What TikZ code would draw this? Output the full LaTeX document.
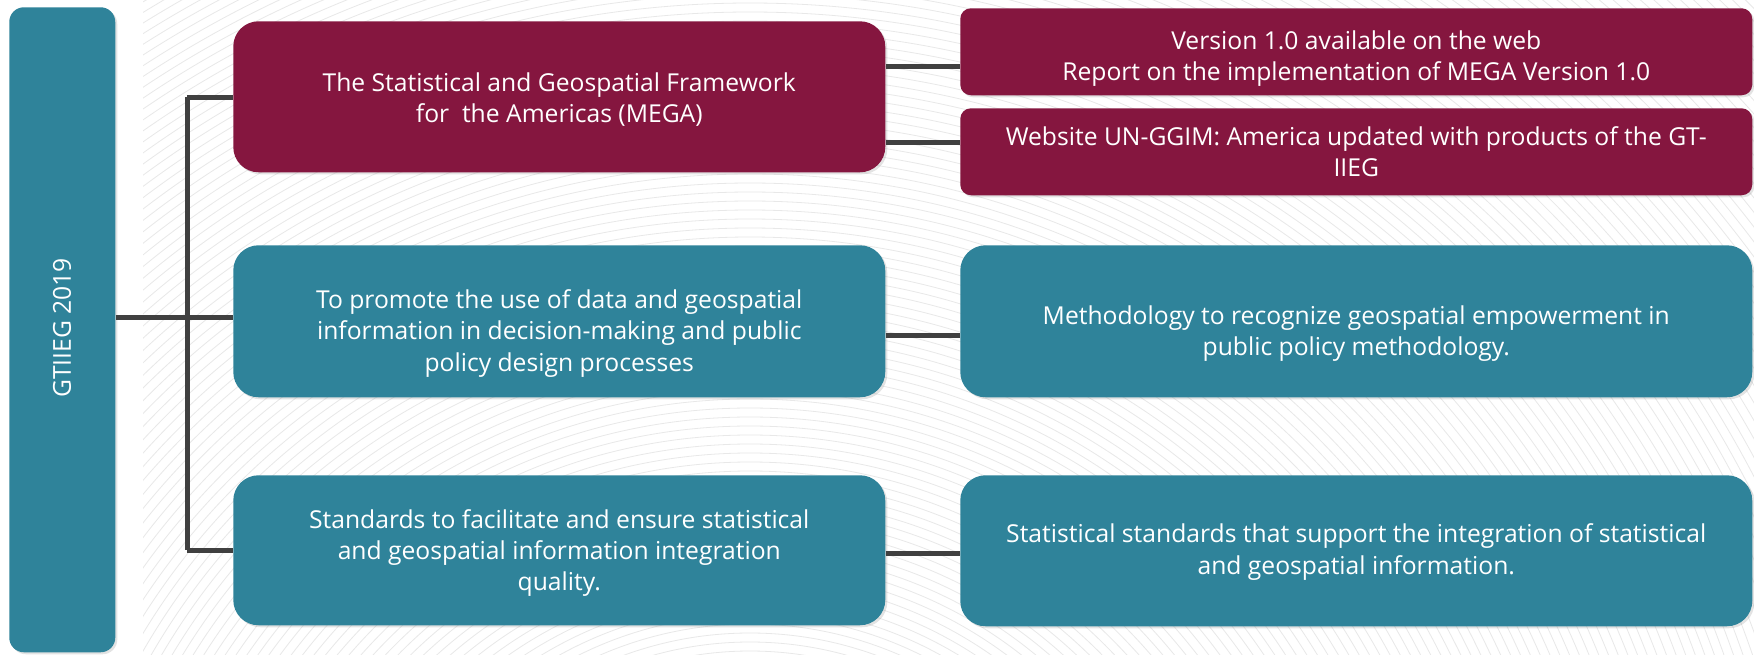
\documentclass[tikz,border=0pt]{standalone}
\usepackage{fontspec}
\setmainfont{Open Sans}
\usetikzlibrary{shadows}
\definecolor{maroonc}{HTML}{85163F}
\definecolor{tealc}{HTML}{2F839A}
\definecolor{linec}{HTML}{404040}
\begin{document}
\begin{tikzpicture}[x=0.75pt,y=-0.75pt,
  card/.style={anchor=north west, inner sep=0pt,
    drop shadow={opacity=0.22, shadow xshift=1.5pt, shadow yshift=-1.5pt}},
  bigcard/.style={card, rounded corners=19pt, minimum width=489pt},
  smallcard/.style={card, rounded corners=8pt, minimum width=594pt, minimum height=65.25pt},
  rightcard/.style={card, rounded corners=19pt, minimum width=594pt},
  cardtext/.style={align=center, text=white, inner sep=0pt,
    font=\fontsize{18.5}{23.5}\selectfont},
  link/.style={draw=linec, line width=3.75pt}]
% canvas
\fill[white] (0,0) rectangle (1754,654);
\useasboundingbox (0,0) rectangle (1754,654);
% faint background contour pattern
\begin{scope}
  \clip (143,0) rectangle (1754,654);
  \foreach \r in {340,349,...,1430}
    \draw[black!9, line width=0.6pt] (750,1000) circle[radius=\r];
\end{scope}
% root
\node[card, fill=tealc, rounded corners=11pt, minimum width=79.5pt, minimum height=483.75pt] (root) at (9,7) {};
\node[cardtext, rotate=90] (rootlabel) at (62,328) {GTIIEG 2019};
% tree coordinates
\coordinate (trunkTop) at (187,97);
\coordinate (trunkMid) at (187,317);
\coordinate (trunkBot) at (187,550);
% level-1 cards
\node[bigcard, fill=maroonc, minimum height=113.25pt] (mega) at (233,21) {};
\node[cardtext, yshift=-2pt] (megatext) at (mega.center)
  {The Statistical and Geospatial Framework\\for\ \ the Americas (MEGA)};
\node[bigcard, fill=tealc, minimum height=114pt] (promote) at (233,245) {};
\node[cardtext, yshift=-9pt] (promotetext) at (promote.center)
  {To promote the use of data and geospatial\\information in decision-making and public\\policy design processes};
\node[bigcard, fill=tealc, minimum height=112.5pt] (standards) at (233,475) {};
\node[cardtext, yshift=-2pt] (standardstext) at (standards.center)
  {Standards to facilitate and ensure statistical\\and geospatial information integration\\quality.};
% level-2 cards
\node[smallcard, fill=maroonc] (version) at (960,8) {};
\node[cardtext, yshift=-5pt] (versiontext) at (version.center)
  {Version 1.0 available on the web\\Report on the implementation of MEGA Version 1.0};
\node[smallcard, fill=maroonc] (website) at (960,108) {};
\node[cardtext] (websitetext) at (website.center)
  {Website UN-GGIM: America updated with products of the GT-\\IIEG};
\node[rightcard, fill=tealc, minimum height=114pt] (method) at (960,245) {};
\node[cardtext, yshift=-9pt] (methodtext) at (method.center)
  {Methodology to recognize geospatial empowerment in\\public policy methodology.};
\node[rightcard, fill=tealc, minimum height=113.25pt] (statstd) at (960,475) {};
\node[cardtext, yshift=-1pt] (statstdtext) at (statstd.center)
  {Statistical standards that support the integration of statistical\\and geospatial information.};
% connectors
\draw[link] (trunkTop) -- (trunkBot);
\draw[link] (trunkTop) -- (trunkTop -| mega.west);
\draw[link] (root.east |- trunkMid) -- (trunkMid -| promote.west);
\draw[link] (trunkBot) -- (trunkBot -| standards.west);
\coordinate (c1) at (885,66);
\coordinate (c2) at (885,142);
\coordinate (c3) at (885,335);
\coordinate (c4) at (885,553);
\draw[link] (c1 -| mega.east) -- (c1 -| version.west);
\draw[link] (c2 -| mega.east) -- (c2 -| website.west);
\draw[link] (c3 -| promote.east) -- (c3 -| method.west);
\draw[link] (c4 -| standards.east) -- (c4 -| statstd.west);
\end{tikzpicture}
\end{document}
